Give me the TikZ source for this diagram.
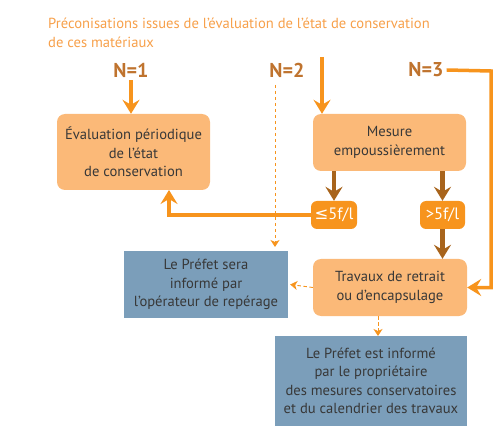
\documentclass[tikz,border=0pt]{standalone}
\usepackage{fontspec}
\setmainfont{PT Sans}
\newfontfamily\symfont{DejaVu Sans}
\usetikzlibrary{arrows.meta,calc}
\definecolor{lightor}{HTML}{FBB978}
\definecolor{midor}{HTML}{F7941D}
\definecolor{brownor}{HTML}{A8641C}
\definecolor{titleor}{HTML}{F7A04A}
\definecolor{nor}{HTML}{BF732E}
\definecolor{bluebox}{HTML}{7B9EBA}
\definecolor{txt}{HTML}{383838}
\tikzset{
  obox/.style={draw=none,fill=lightor,rounded corners=8pt,text=txt,align=center,font=\fontsize{14.6}{18.5}\selectfont,inner sep=0pt},
  bbox/.style={draw=none,fill=bluebox,text=txt,align=center,font=\fontsize{14.6}{18.5}\selectfont,inner sep=0pt},
  sbox/.style={draw=none,fill=midor,rounded corners=6pt,text=white,font=\fontsize{16.5}{18}\selectfont,inner sep=0pt,minimum height=28pt},
  nlab/.style={text=nor,font=\fontsize{20}{22}\selectfont\bfseries,inner sep=0pt},
  oline/.style={draw=midor,line width=3.5pt,-{Stealth[length=14pt,width=17pt,inset=5pt]}},
  bline/.style={draw=brownor,line width=4.5pt,-{Stealth[length=14pt,width=17pt,inset=5pt]}},
  dline/.style={draw=midor,line width=0.9pt,dash pattern=on 3.5pt off 2.5pt,-{Stealth[length=7pt,width=9pt,inset=2pt]}},
}
\begin{document}
\begin{tikzpicture}[x=1pt,y=-1pt]
\useasboundingbox (0,0) rectangle (504,433);
\node[anchor=north west,text=titleor,align=left,font=\fontsize{14.6}{18.5}\selectfont,inner sep=0pt] (title) at (48,18)
  {Préconisations issues de l’évaluation de l’état de conservation\\de ces matériaux};
\node[nlab] (n1) at (131,70) {N=1};
\node[nlab] (n2) at (287,70) {N=2};
\node[nlab] (n3) at (426,70) {N=3};

\node[obox,minimum width=153pt,minimum height=76pt] (eval) at (133.5,152) {Évaluation périodique\\de l’état\\de conservation};
\node[obox,minimum width=153pt,minimum height=57pt] (mes) at (389.5,142.5) {Mesure\\empoussièrement};
\node[sbox,minimum width=46pt] (le) at (334,215) {{\symfont ≤}5f/l};
\node[sbox,minimum width=45pt] (gt) at (442.5,215) {>5f/l};
\node[obox,minimum width=154pt,minimum height=57pt] (trav) at (390,287.5) {Travaux de retrait\\ou d’encapsulage};
\node[bbox,minimum width=164pt,minimum height=67pt] (pse) at (206,284.5) {Le Préfet sera\\informé par\\l’opérateur de repérage};
\node[bbox,minimum width=192pt,minimum height=90pt] (pei) at (371,381) {Le Préfet est informé\\par le propriétaire\\des mesures conservatoires\\et du calendrier des travaux};

\coordinate (mtop) at (322,57);
\coordinate (d2top) at (275,85);
\coordinate (d2end) at (275,247);
\coordinate (evalin) at (169,190);
\coordinate (trs) at (378,316);
\coordinate (peiin) at (378,336);
\coordinate (n3r) at (491,71);

\draw[oline] (n1.south) ++(0,3) -- (n1.south |- eval.north);
\draw[oline] (mtop) -- (mtop |- mes.north);
\draw[bline] (le.north |- mes.south) -- (le.north);
\draw[bline] (gt.north |- mes.south) -- (gt.north);
\draw[bline] (gt.south) -- (gt.south |- trav.north);
\draw[oline] (le.west) -| (evalin);
\draw[oline,rounded corners=0pt] ([xshift=3pt]n3.east) -- (n3r) |- (trav.east);
\draw[dline] (d2top) -- (d2end);
\draw[dline] (trav.west) -- ([xshift=2pt]pse.east);
\draw[dline] (trs) -- (peiin);
\end{tikzpicture}
\end{document}
